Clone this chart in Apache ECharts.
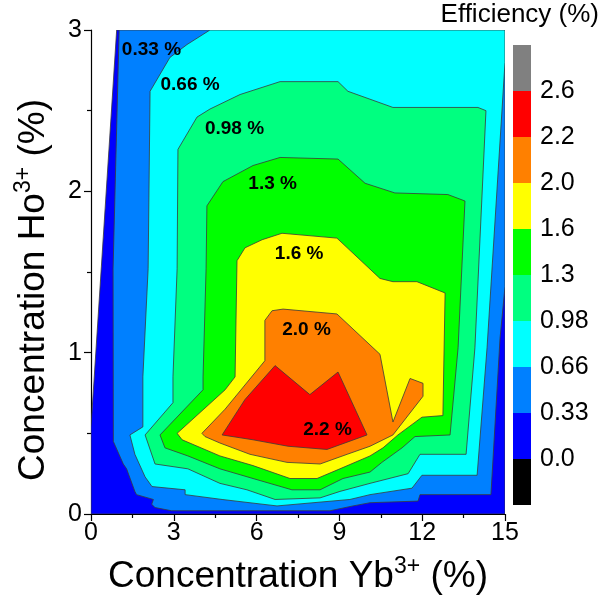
<!DOCTYPE html>
<html><head><meta charset="utf-8">
<script src="https://cdn.jsdelivr.net/npm/echarts/dist/echarts.min.js"></script>
<style>html,body{margin:0;padding:0;background:#fff}#c{width:606px;height:600px}</style>
</head><body><div id="c"></div>
<script>
// Contour level thresholds (Efficiency %) and their fill colours
const levelValues = [0, 0.33, 0.66, 0.98, 1.3, 1.6, 2.0, 2.2];
const levelColors = ['#0000FF', '#0080FF', '#00FFFF', '#00FF80', '#00FF00', '#FFFF00', '#FF8000', '#FF0000'];

// Region outlines [Yb %, Ho %] where efficiency >= level
const region000 = [[0,0],[0,0.54],[0.93,3],[15,3],[15,0]];
const region033 = [[1.02,3],[15,3],[15,1.41],[14.82,1.09],[14.49,0.12],[11.92,0.12],[11.85,0.08],[10.11,0.07],[9.49,0.05],[8.66,0.02],[2.92,0.02],[2.32,0.04],[2.2,0.06],[2.26,0.09],[1.65,0.12],[1.59,0.14],[1.29,0.28],[1.17,0.31],[0.81,0.45],[0.8,1.52]];
const region066 = [[4.31,3],[15,3],[15,2.8],[14.35,1.03],[13.99,0.24],[11.99,0.24],[11.63,0.16],[10.11,0.12],[9.38,0.09],[6.74,0.05],[4.75,0.09],[3.41,0.12],[3.41,0.15],[2.21,0.17],[1.96,0.23],[1.59,0.37],[1.41,0.49],[1.88,0.54],[1.88,0.85],[2.07,1.52],[2.14,2.62],[2.86,2.83],[3.48,2.91]];
const region098 = [[6.85,2.68],[8.95,2.68],[9.31,2.62],[10.94,2.52],[14.02,2.52],[14.31,2.5],[13.91,1.03],[13.59,0.37],[11.92,0.37],[11.49,0.25],[10.11,0.19],[9.02,0.14],[8.3,0.1],[6.67,0.09],[5.65,0.15],[4.67,0.19],[3.51,0.28],[2.32,0.31],[1.96,0.49],[2.97,0.69],[2.97,0.85],[3.12,1.52],[3.15,2.26],[3.84,2.46],[4.31,2.51],[5.4,2.6]];
const region130 = [[6.85,2.21],[8.95,2.2],[9.93,2.05],[11.01,1.99],[12.93,1.98],[13.55,1.94],[13.3,1.03],[13.01,0.49],[11.74,0.48],[11.27,0.41],[10.54,0.32],[10.11,0.26],[9.13,0.22],[8.3,0.15],[7.28,0.15],[5.87,0.22],[4.67,0.28],[3.51,0.36],[2.68,0.41],[2.5,0.49],[4.06,0.77],[4.06,0.85],[4.17,1.52],[4.2,1.91],[4.78,2.06],[5.87,2.16]];
const region160 = [[5.29,1.57],[5.58,1.65],[6.2,1.7],[6.92,1.74],[8.91,1.71],[10.47,1.46],[10.94,1.44],[11.81,1.44],[12.83,1.37],[12.75,0.61],[11.99,0.6],[11.12,0.49],[10.58,0.41],[10.11,0.36],[9.02,0.28],[8.19,0.22],[7.21,0.22],[5.87,0.3],[4.67,0.36],[3.3,0.46],[3.12,0.5],[4.86,0.77],[5.22,0.85]];
const region200 = [[6.3,1.2],[6.56,1.26],[6.96,1.27],[8.91,1.24],[10.47,0.99],[10.94,0.57],[11.56,0.84],[12.03,0.81],[12.03,0.73],[10.94,0.49],[10.11,0.42],[9.28,0.37],[8.3,0.31],[7.1,0.32],[5.76,0.37],[4.67,0.44],[4.13,0.48],[4.02,0.5],[4.86,0.65],[6.3,0.95]];
const region220 = [[4.75,0.49],[5.58,0.71],[6.67,0.92],[7.93,0.74],[8.95,0.88],[10.0,0.49],[8.55,0.4],[7.14,0.42],[5.87,0.46]];
const regions = [region000, region033, region066, region098, region130, region160, region200, region220];

// Contour labels [Yb %, Ho %, text]
const contourLabels = [
  [2.19, 2.88, '0.33 %'],
  [3.59, 2.66, '0.66 %'],
  [5.20, 2.39, '0.98 %'],
  [6.58, 2.05, '1.3 %'],
  [7.54, 1.61, '1.6 %'],
  [7.81, 1.14, '2.0 %'],
  [8.57, 0.52, '2.2 %']
];

// Colour bar
const colorbarColors = ['#000000','#0000FF','#0080FF','#00FFFF','#00FF80','#00FF00','#FFFF00','#FF8000','#FF0000','#808080'];
const colorbarLabels = ['0.0','0.33','0.66','0.98','1.3','1.6','2.0','2.2','2.6'];

// Axis ticks
const xTickInterval = 3, xMin = 0, xMax = 15;
const yTickInterval = 1, yMin = 0, yMax = 3;

const FONT = 'Liberation Sans, Arial, sans-serif';
const chart = echarts.init(document.getElementById('c'), null, {renderer: 'canvas'});

const axisCommon = {
  axisLine: {show: true, lineStyle: {color: '#000', width: 1.2}},
  axisTick: {show: true, inside: false, length: 7, lineStyle: {color: '#000', width: 1.2}},
  minorTick: {show: true, splitNumber: 2, length: 4, lineStyle: {color: '#000', width: 1.2}},
  splitLine: {show: false},
  minorSplitLine: {show: false}
};

chart.setOption({
  animation: false,
  backgroundColor: '#fff',
  title: {
    text: 'Efficiency (%)', right: 2, top: -3,
    textStyle: {fontSize: 26, fontWeight: 'normal', fontFamily: FONT, color: '#000'}
  },
  grid: [
    {left: 91, top: 30, width: 414, height: 488},
    {left: 513, top: 45, width: 18, height: 460}
  ],
  xAxis: [
    Object.assign({
      type: 'value', gridIndex: 0, min: xMin, max: xMax, interval: xTickInterval,
      name: 'Concentration Yb{sup|3+} (%)', nameLocation: 'middle', nameGap: 41,
      nameTextStyle: {fontSize: 37, fontFamily: FONT, color: '#000',
        rich: {sup: {fontSize: 23, fontFamily: FONT, color: '#000', padding: [0, 0, 20, 0]}}},
      axisLabel: {fontSize: 25, fontFamily: FONT, color: '#000', margin: 7}
    }, axisCommon),
    {type: 'value', gridIndex: 1, min: 0, max: 1, show: false}
  ],
  yAxis: [
    Object.assign({
      type: 'value', gridIndex: 0, min: yMin, max: yMax, interval: yTickInterval,
      name: 'Concentration Ho{sup|3+} (%)', nameLocation: 'middle', nameGap: 36,
      nameTextStyle: {fontSize: 37, fontFamily: FONT, color: '#000', padding: [0, 36, 0, 0],
        rich: {sup: {fontSize: 23, fontFamily: FONT, color: '#000', padding: [0, 0, 20, 0]}}},
      axisLabel: {fontSize: 25, fontFamily: FONT, color: '#000', margin: 9}
    }, axisCommon),
    {
      type: 'value', gridIndex: 1, min: 0, max: colorbarColors.length, interval: 1, position: 'right',
      axisLine: {show: false}, axisTick: {show: false}, splitLine: {show: false},
      axisLabel: {fontSize: 25, fontFamily: FONT, color: '#000', margin: 9, padding: [6, 0, 0, 0],
        formatter: v => (v >= 1 && v <= colorbarLabels.length) ? colorbarLabels[v - 1] : ''}
    }
  ],
  series: [
    {
      type: 'custom', xAxisIndex: 0, yAxisIndex: 0, clip: true,
      data: regions.map(r => r[0]),
      renderItem: (params, api) => {
        const i = params.dataIndex;
        const pts = regions[i].map(p => api.coord(p));
        return {type: 'polygon', z2: i, shape: {points: pts},
          style: {fill: levelColors[i], stroke: '#3a3a3a', lineWidth: 0.8}};
      }
    },
    {
      type: 'custom', xAxisIndex: 0, yAxisIndex: 0, z: 5,
      data: contourLabels.map(l => [l[0], l[1]]),
      renderItem: (params, api) => {
        const p = api.coord([api.value(0), api.value(1)]);
        return {type: 'text', x: p[0], y: p[1],
          style: {text: contourLabels[params.dataIndex][2], fill: '#000',
            font: 'bold 19px ' + FONT, textAlign: 'center', textVerticalAlign: 'middle'}};
      }
    },
    {
      type: 'custom', xAxisIndex: 1, yAxisIndex: 1,
      data: colorbarColors.map((c, i) => [0, i]),
      renderItem: (params, api) => {
        const i = params.dataIndex;
        const a = api.coord([0, i + 1]);
        const b = api.coord([1, i]);
        return {type: 'rect', shape: {x: a[0], y: a[1], width: b[0] - a[0], height: b[1] - a[1]},
          style: {fill: colorbarColors[i]}};
      }
    }
  ]
});
</script></body></html>
